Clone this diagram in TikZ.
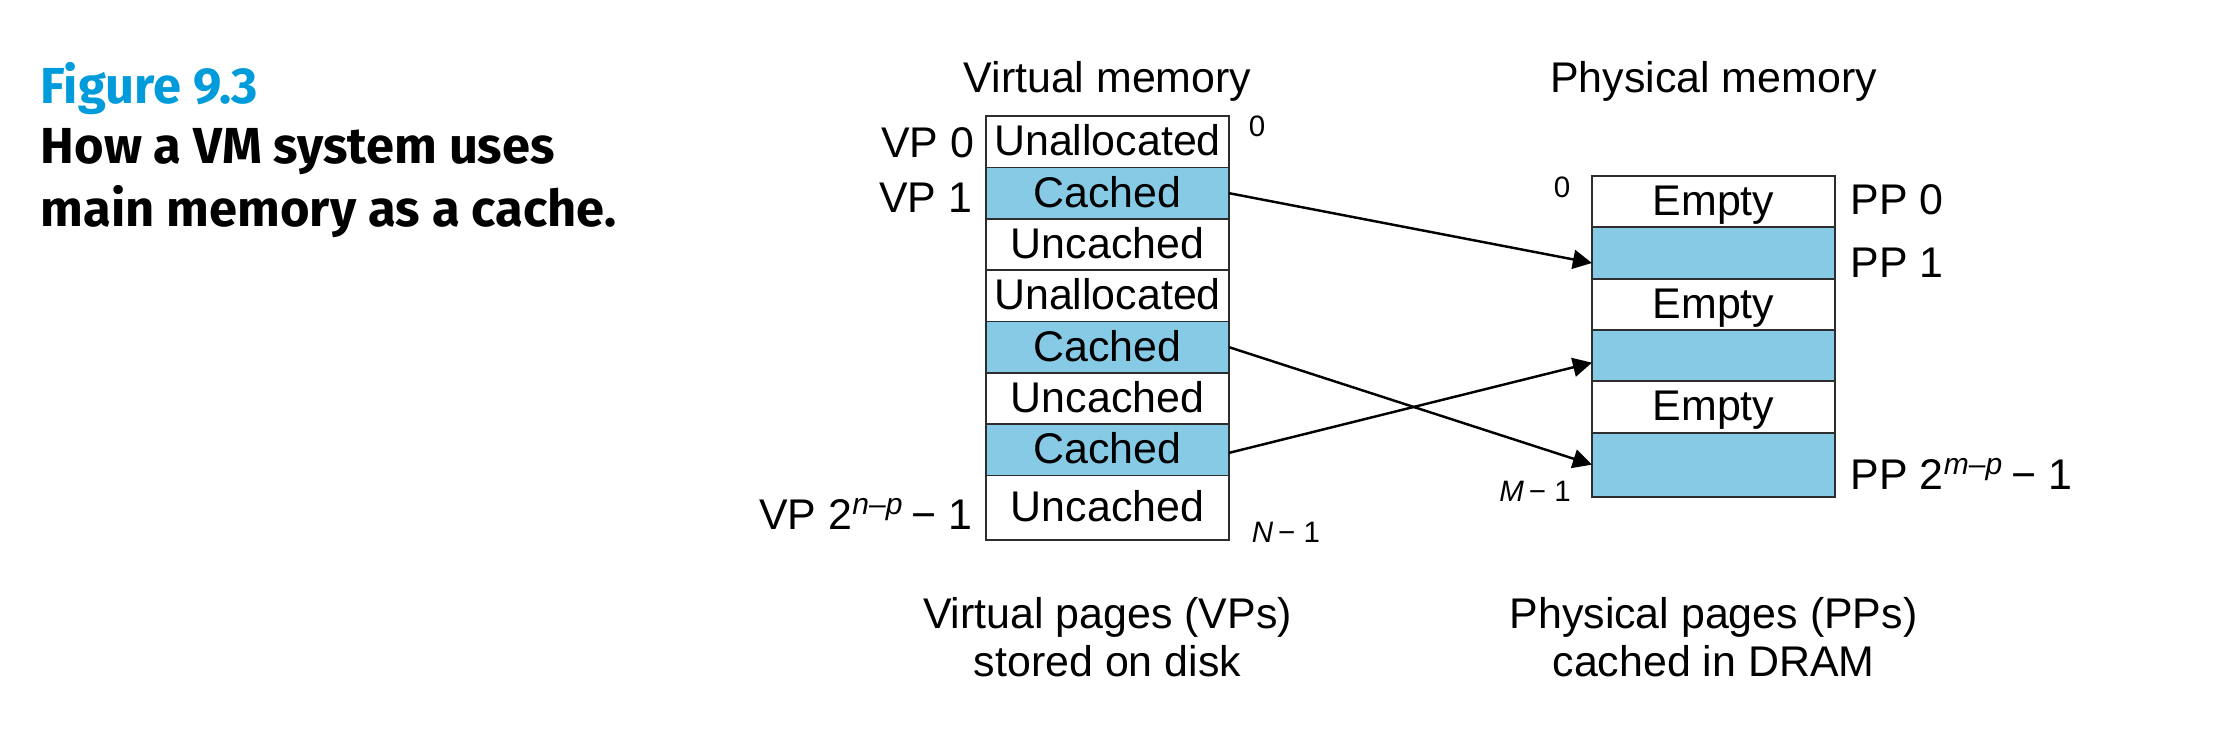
\documentclass[tikz,border=0pt]{standalone}
\usepackage{fontspec}
\setmainfont{Liberation Sans}
\newfontfamily\captionfont{Fira Sans}
\usetikzlibrary{chains,positioning,arrows.meta}
\definecolor{pagecached}{RGB}{134,202,229}
\definecolor{figblue}{RGB}{0,155,219}
\definecolor{cellline}{RGB}{45,45,45}

\begin{document}
\begin{tikzpicture}[x=0.01cm,y=-0.01cm,
    font=\fontsize{12.2}{13.6}\selectfont,
    caption/.style={anchor=base west,inner sep=0pt,
      font=\captionfont\bfseries\fontsize{14.4}{16}\selectfont},
    sidelabel/.style={inner sep=0pt,text height=1.38ex,text depth=0pt},
    addrlabel/.style={inner sep=0pt,font=\fontsize{8.4}{10}\selectfont},
    mapping/.style={draw=black,line width=0.7pt,
      -{Triangle[length=0.19cm,width=0.19cm]}},
  ]
  \useasboundingbox (0,0) rectangle (2218,738);

  % caption on the left
  \node[caption,text=figblue] (fig) at (40,103) {Figure 9.3};
  \node[caption] (cap1) at (40,163) {How a VM system uses};
  \node[caption] (cap2) at (40,226) {main memory as a cache.};

  % virtual pages
  \begin{scope}[
    every node/.style={
      draw=cellline,
      line width=0.55pt,
      on chain,
      minimum width=2.43cm,
      minimum height=0.513cm,
      inner sep=0pt,
      outer sep=0pt,
      text height=1.5ex,
      text depth=0pt,
    },
    node distance=0pt,
    start chain=going below,
    ]
    \node[fill=white] (v1) at (1107.5,141.85) {Unallocated};
    \foreach \txt/\col [count=\i from 2] in
      {Cached/pagecached,Uncached/white,Unallocated/white,
       Cached/pagecached,Uncached/white,Cached/pagecached}{
      \node[fill=\col] (v\i) {\txt};
    };
    \node[fill=white,minimum height=0.64cm] (v8) {Uncached};
  \end{scope}

  % physical pages
  \begin{scope}[
    every node/.style={
      draw=cellline,
      line width=0.55pt,
      on chain,
      minimum width=2.43cm,
      minimum height=0.513cm,
      inner sep=0pt,
      outer sep=0pt,
      text height=1.5ex,
      text depth=0pt,
    },
    node distance=0pt,
    start chain=going below,
    ]
    \node[fill=white] (p1) at (1713.5,201.65) {Empty};
    \foreach \txt/\col [count=\i from 2] in
      {{}/pagecached,Empty/white,{}/pagecached,Empty/white}{
      \node[fill=\col] (p\i) {\txt};
    };
    \node[fill=pagecached,minimum height=0.64cm] (p6) {};
  \end{scope}

  % titles
  \node[sidelabel,above=0.23cm of v1] (vtitle) {Virtual memory};
  \node[sidelabel] (ptitle) at (vtitle -| p1) {Physical memory};
  \node[inner sep=0pt,align=center,anchor=north,below=0.57cm of v8] (vpages)
    {Virtual pages (VPs)\\stored on disk};
  \node[inner sep=0pt,align=center,anchor=north] (ppages) at (vpages.north -| p6)
    {Physical pages (PPs)\\cached in DRAM};

  % page numbers
  \node[sidelabel,anchor=east] (vp0) at ([xshift=-0.11cm,yshift=-0.03cm]v1.west) {VP 0};
  \node[sidelabel,anchor=east] (vp1) at ([xshift=-0.13cm,yshift=-0.06cm]v2.west) {VP 1};
  \node[sidelabel,anchor=east] (vpn) at ([xshift=-0.13cm,yshift=-0.09cm]v8.west)
    {VP 2\textsuperscript{\textit{n}–\textit{p}}\,− 1};
  \node[sidelabel,anchor=west] (pp0) at ([xshift=0.15cm]p1.east) {PP 0};
  \node[sidelabel,anchor=west] (pp1) at ([xshift=0.15cm,yshift=-0.12cm]p2.east) {PP 1};
  \node[sidelabel,anchor=west] (ppn) at ([xshift=0.15cm,yshift=-0.12cm]p6.east)
    {PP 2\textsuperscript{\textit{m}–\textit{p}}\,− 1};

  % addresses
  \node[addrlabel] (vzero) at (1257,126) {0};
  \node[addrlabel] (vlast) at (1286,532) {\textit{N}\,− 1};
  \node[addrlabel] (pzero) at (1562,187) {0};
  \node[addrlabel] (plast) at (1535,491) {\textit{M}\,− 1};

  % cached pages mapped into DRAM
  \draw[mapping] (v2.east) -- ([yshift=-0.1cm]p2.west);
  \draw[mapping] (v5.east) -- (p6.west);
  \draw[mapping] ([yshift=-0.03cm]v7.east) -- ([yshift=-0.07cm]p4.west);
\end{tikzpicture}
\end{document}
